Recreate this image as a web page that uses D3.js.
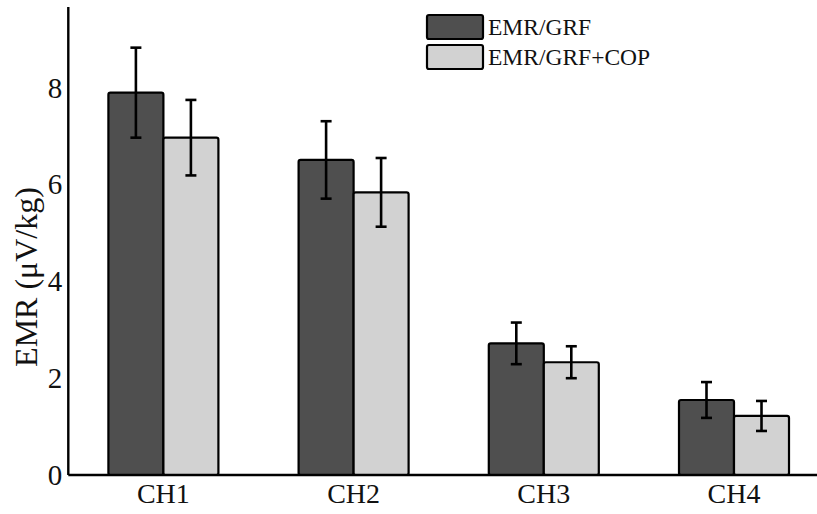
<!DOCTYPE html>
<html>
<head>
<meta charset="utf-8">
<script src="https://cdn.jsdelivr.net/npm/d3@7"></script>
<style>
  html, body { margin: 0; padding: 0; background: #fff; }
  svg { display: block; font-family: "Liberation Serif", "Times New Roman", serif; }
</style>
</head>
<body>
<svg id="chart" width="817" height="514"></svg>
<script>
// Channels and the two normalisation methods
const channels = ["CH1", "CH2", "CH3", "CH4"];
const seriesNames = ["EMR/GRF", "EMR/GRF+COP"];
// Mean EMR per channel (µV/kg)
const meanGRF = [7.90, 6.51, 2.72, 1.55];
const meanGRFCOP = [6.97, 5.84, 2.33, 1.22];
// Error-bar half widths
const errGRF = [0.93, 0.80, 0.43, 0.37];
const errGRFCOP = [0.78, 0.71, 0.33, 0.31];
const yTicks = [0, 2, 4, 6, 8];

const colors = ["#4f4f4f", "#d2d2d2"];

const svg = d3.select("#chart");
const W = 817, H = 514;
const axisX = 68.3, baseY = 475, topY = 7;

const y = d3.scaleLinear().domain([0, 9.67]).range([baseY, topY]);
const x = d3.scaleBand().domain(channels)
  .range([axisX, axisX + 4 * 190.2])
  .paddingInner(0.4216).paddingOuter(0.2108);
const xs = d3.scaleBand().domain(seriesNames).range([0, x.bandwidth()]);

const rows = channels.flatMap((c, i) => [
  { ch: c, s: seriesNames[0], v: meanGRF[i], e: errGRF[i], k: 0 },
  { ch: c, s: seriesNames[1], v: meanGRFCOP[i], e: errGRFCOP[i], k: 1 }
]);

// Bars
svg.append("g").selectAll("rect").data(rows).join("rect")
  .attr("x", d => x(d.ch) + xs(d.s))
  .attr("y", d => y(d.v))
  .attr("width", xs.bandwidth())
  .attr("height", d => y(0) - y(d.v))
  .attr("rx", 2)
  .attr("fill", d => colors[d.k])
  .attr("stroke", "#000")
  .attr("stroke-width", 2.2);

// Error bars
const eb = svg.append("g").attr("stroke", "#000").attr("stroke-width", 2.6);
rows.forEach(d => {
  const cx = x(d.ch) + xs(d.s) + xs.bandwidth() / 2;
  const cap = 5.5;
  eb.append("line").attr("x1", cx).attr("x2", cx).attr("y1", y(d.v + d.e)).attr("y2", y(d.v - d.e));
  eb.append("line").attr("x1", cx - cap).attr("x2", cx + cap).attr("y1", y(d.v + d.e)).attr("y2", y(d.v + d.e));
  eb.append("line").attr("x1", cx - cap).attr("x2", cx + cap).attr("y1", y(d.v - d.e)).attr("y2", y(d.v - d.e));
});

// Axis lines
svg.append("line").attr("x1", axisX).attr("x2", axisX).attr("y1", topY).attr("y2", baseY)
  .attr("stroke", "#000").attr("stroke-width", 2.4);
svg.append("line").attr("x1", axisX).attr("x2", W).attr("y1", baseY).attr("y2", baseY)
  .attr("stroke", "#000").attr("stroke-width", 2.4);

// Y tick labels
const ya = svg.append("g").attr("transform", `translate(${axisX},0)`)
  .call(d3.axisLeft(y).tickValues(yTicks).tickSize(0).tickPadding(6).tickFormat(d3.format("d")));
ya.select(".domain").remove();
ya.selectAll("text").attr("font-size", 29).attr("font-family", "Liberation Serif").attr("fill", "#111");

// X tick labels
const xa = svg.append("g").attr("transform", `translate(0,${baseY})`)
  .call(d3.axisBottom(x).tickSize(0).tickPadding(8));
xa.select(".domain").remove();
xa.selectAll("text").attr("font-size", 28).attr("font-family", "Liberation Serif").attr("fill", "#111");

// Y axis title
svg.append("text")
  .attr("transform", `translate(37,${277}) rotate(-90)`)
  .attr("text-anchor", "middle")
  .attr("font-size", 32)
  .attr("fill", "#111")
  .text("EMR (\u03bcV/kg)");

// Legend
const lg = svg.append("g");
seriesNames.forEach((s, i) => {
  lg.append("rect").attr("x", 427).attr("y", 15 + i * 30).attr("width", 56).attr("height", 24)
    .attr("rx", 2).attr("fill", colors[i]).attr("stroke", "#000").attr("stroke-width", 2.2);
  lg.append("text").attr("x", 488).attr("y", 27 + i * 30).attr("dy", "0.35em")
    .attr("font-size", 23.5).attr("fill", "#111").text(s);
});
</script>
</body>
</html>
